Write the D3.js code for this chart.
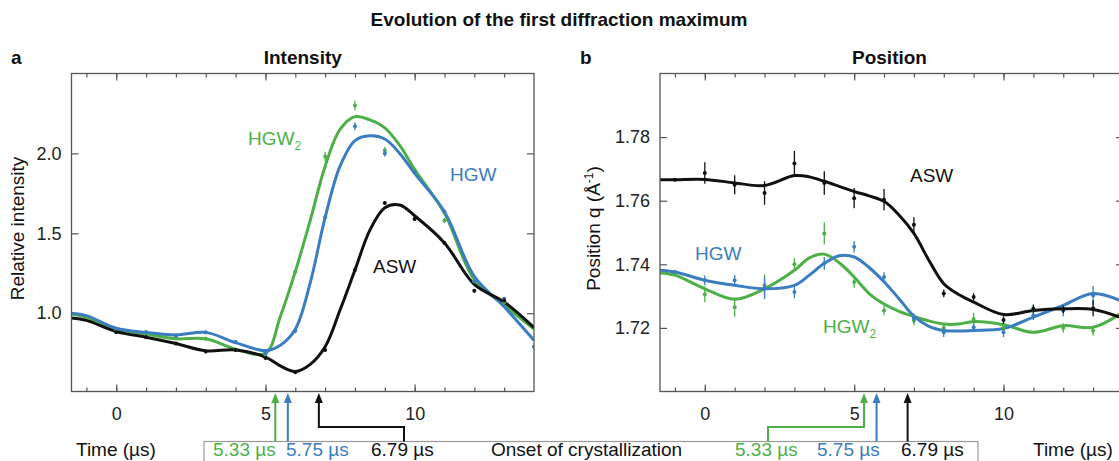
<!DOCTYPE html>
<html><head><meta charset="utf-8">
<script src="https://cdn.jsdelivr.net/npm/d3@7"></script>
<style>
body{margin:0;background:#fff}
text{font-family:"Liberation Sans",Arial,Helvetica,sans-serif}
</style>
</head><body>
<svg id="c" width="1119" height="461"></svg>
<script>
// ---------- data ----------
const xTicks = [0, 5, 10];
const xMinor = [-1,0,1,2,3,4,5,6,7,8,9,10,11,12,13];
const yTicksA = [1.0, 1.5, 2.0];
const yTicksB = [1.72, 1.74, 1.76, 1.78];

// Panel a: fitted curves (relative intensity)
const fitTimeA = [-1.5,-1,0,1,2,3,4,5,5.5,6,6.5,7,7.5,8,8.5,9,9.5,10,11,12,13,14];
const fitHGW2A = [0.995,0.975,0.90,0.87,0.84,0.84,0.775,0.75,0.98,1.26,1.58,1.92,2.15,2.23,2.21,2.16,2.05,1.90,1.625,1.21,1.05,0.90];
const fitHGWA  = [1.00,0.985,0.906,0.88,0.864,0.88,0.816,0.766,0.80,0.90,1.19,1.60,1.92,2.08,2.11,2.09,2.0,1.875,1.635,1.23,1.04,0.83];
const fitASWA  = [0.97,0.955,0.885,0.85,0.81,0.765,0.77,0.725,0.67,0.635,0.68,0.79,1.02,1.27,1.52,1.66,1.677,1.61,1.44,1.18,1.07,0.91];

// Panel a: measured points
const ptTimeA = [0,1,2,3,4,5,6,7,8,9,10,11,12,13,14];
const ptHGW2A = [0.89,0.88,0.85,0.84,0.77,0.74,1.26,1.98,2.30,2.02,1.89,1.58,1.20,1.07,null];
const errHGW2A= [0.012,0.012,0.012,0.012,0.012,0.012,0.015,0.03,0.03,0.02,0.015,0.015,0.012,0.012,0];
const ptHGWA  = [0.90,0.88,0.86,0.88,0.82,0.75,0.89,1.60,2.17,2.00,1.88,1.635,1.20,1.09,0.79];
const errHGWA = [0.012,0.012,0.012,0.012,0.012,0.012,0.015,0.02,0.025,0.02,0.015,0.015,0.012,0.012,0.012];
const ptASWA  = [0.88,0.85,0.81,0.76,0.77,0.72,0.63,0.77,1.27,1.69,1.59,1.44,1.14,1.08,null];
const errASWA = [0.01,0.01,0.01,0.01,0.01,0.01,0.01,0.01,0.01,0.012,0.012,0.01,0.01,0.01,0];

// Panel b: fitted curves (position q, 1/Å)
const fitTimeB = [-1.5,-1,0,1,2,3,3.5,4,4.5,5,5.5,6,6.5,7,7.5,8,8.5,9,10,11,12,13,14];
const fitASWB  = [1.7666,1.7666,1.7667,1.7656,1.7648,1.7679,1.7675,1.7661,1.7645,1.7629,1.7615,1.7598,1.7555,1.7497,1.7413,1.7339,1.7305,1.7281,1.7242,1.7255,1.7260,1.7258,1.7230];
const fitHGWB  = [1.7381,1.7376,1.7350,1.7334,1.7323,1.7334,1.7366,1.7403,1.7427,1.7423,1.7390,1.7345,1.7292,1.7237,1.7205,1.7192,1.7190,1.7192,1.7198,1.7234,1.7271,1.7308,1.7282];
const fitHGW2B = [1.7373,1.7366,1.7323,1.7290,1.7323,1.7381,1.7420,1.7432,1.7405,1.7360,1.7308,1.7275,1.7252,1.7236,1.7222,1.7212,1.7212,1.7220,1.7210,1.7186,1.7207,1.7202,1.7250];

// Panel b: measured points
const ptTimeB = [-1,0,1,2,3,4,5,6,7,8,9,10,11,12,13,14];
const ptASWB  = [1.7666,1.7687,1.7650,1.7624,1.7717,1.7656,1.7608,1.7603,1.7524,1.7308,1.7297,1.7225,1.7260,1.7258,1.7262,null];
const errASWB = [0.0004,0.0034,0.003,0.0037,0.0039,0.0037,0.0032,0.0034,0.0024,0.0012,0.0012,0.0012,0.0012,0.0012,0.0025,0];
const ptHGWB  = [1.7376,1.7350,1.7350,1.7325,1.7313,1.7403,1.7455,1.7360,1.7230,1.7186,1.7202,1.7186,1.7240,1.7255,1.7302,null];
const errHGWB = [0.0004,0.0015,0.0016,0.0034,0.002,0.002,0.0018,0.0015,0.0015,0.0015,0.0015,0.0015,0.0015,0.0018,0.003,0];
const ptHGW2B = [1.7370,1.7306,1.7265,1.7334,1.7400,1.7497,1.7344,1.7255,1.7223,1.7200,1.7228,1.7200,1.7260,1.7200,1.7191,null];
const errHGW2B= [0.0004,0.0025,0.003,0.0035,0.002,0.0035,0.0018,0.0015,0.0015,0.0015,0.002,0.0015,0.0015,0.0015,0.0015,0];

// Onset of crystallization
const onsetTimes  = [5.33, 5.75, 6.79];
const onsetLabels = ["5.33 µs", "5.75 µs", "6.79 µs"];

// ---------- styles ----------
const GREEN = "#4db047", BLUE = "#3a7dc0", BLACK = "#111111";
const onsetColors = [GREEN, BLUE, BLACK];
const FONT = 19, TICKFONT = 18, BOTTOM_BASE = 456;

const svg = d3.select("#c");

svg.append("text").attr("x", 559).attr("y", 26).attr("text-anchor", "middle")
  .attr("font-weight", "bold").attr("font-size", 19).attr("fill", "#111")
  .text("Evolution of the first diffraction maximum");

const T = 73.5, B = 391.5;
const panels = [
  {key:"a", L:71.5, R:534, title:"Intensity", yDomain:[0.51,2.5], yTicks:yTicksA, yFmt:d3.format(".1f"),
   fitT:fitTimeA, fits:[[fitHGW2A,GREEN],[fitHGWA,BLUE],[fitASWA,BLACK]],
   ptT:ptTimeA, pts:[[ptHGW2A,errHGW2A,GREEN],[ptHGWA,errHGWA,BLUE],[ptASWA,errASWA,BLACK]],
   ylabel:"Relative intensity", ylabX:24, letterX:11},
  {key:"b", L:660, R:1123, title:"Position", yDomain:[1.70,1.80], yTicks:yTicksB, yFmt:d3.format(".2f"),
   fitT:fitTimeB, fits:[[fitHGW2B,GREEN],[fitHGWB,BLUE],[fitASWB,BLACK]],
   ptT:ptTimeB, pts:[[ptHGW2B,errHGW2B,GREEN],[ptHGWB,errHGWB,BLUE],[ptASWB,errASWB,BLACK]],
   ylabel:"Position q (Å", ylabX:600, letterX:580}
];

const defs = svg.append("defs");

panels.forEach(p => {
  const x = d3.scaleLinear().domain([-1.5, 14]).range([p.L, p.R]);
  const y = d3.scaleLinear().domain(p.yDomain).range([B, T]);
  p.x = x; p.y = y;
  const g = svg.append("g");

  defs.append("clipPath").attr("id", "clip" + p.key).append("rect")
    .attr("x", p.L).attr("y", T).attr("width", p.R - p.L).attr("height", B - T);

  g.append("text").attr("x", p.letterX).attr("y", 64).attr("font-weight", "bold")
    .attr("font-size", FONT).attr("fill", "#111").text(p.key);
  g.append("text").attr("x", (p.L + p.R) / 2 + (p.key === "a" ? 0 : -2)).attr("y", 64)
    .attr("text-anchor", "middle").attr("font-weight", "bold").attr("font-size", FONT)
    .attr("fill", "#111").text(p.title);

  const axColor = "#555";
  const mk = (sel) => { sel.select(".domain").remove(); sel.selectAll("line").attr("stroke", axColor).attr("stroke-width", 1.2);
    sel.selectAll("text").attr("font-size", TICKFONT).attr("fill", "#222").attr("font-family", '"Liberation Sans",Arial,sans-serif'); };
  g.append("g").attr("transform", `translate(0,${B})`)
    .call(d3.axisBottom(x).tickValues(xMinor).tickSize(-4).tickFormat("")).call(mk);
  g.append("g").attr("transform", `translate(0,${B})`)
    .call(d3.axisBottom(x).tickValues(xTicks).tickSize(-7).tickPadding(16).tickFormat(d3.format("d"))).call(mk);
  g.append("g").attr("transform", `translate(0,${T})`)
    .call(d3.axisTop(x).tickValues(xMinor).tickSize(-4).tickFormat("")).call(mk);
  g.append("g").attr("transform", `translate(0,${T})`)
    .call(d3.axisTop(x).tickValues(xTicks).tickSize(-7).tickFormat("")).call(mk);
  g.append("g").attr("transform", `translate(${p.L},0)`)
    .call(d3.axisLeft(y).tickValues(p.yTicks).tickSize(-7).tickPadding(10).tickFormat(p.yFmt)).call(mk);
  g.append("g").attr("transform", `translate(${p.R},0)`)
    .call(d3.axisRight(y).tickValues(p.yTicks).tickSize(-7).tickFormat("")).call(mk);

  const cg = g.append("g").attr("clip-path", `url(#clip${p.key})`);
  const line = d3.line().x((d) => x(d[0])).y((d) => y(d[1])).curve(d3.curveCatmullRom.alpha(0.5));
  p.fits.forEach(([vals, col]) => {
    cg.append("path").datum(p.fitT.map((t, i) => [t, vals[i]]))
      .attr("d", line).attr("fill", "none").attr("stroke", col).attr("stroke-width", 3)
      .attr("stroke-linejoin", "round");
  });
  p.pts.forEach(([vals, errs, col]) => {
    const data = p.ptT.map((t, i) => ({t, v: vals[i], e: errs[i]})).filter(d => d.v !== null);
    cg.selectAll(null).data(data).enter().append("line")
      .attr("x1", d => x(d.t)).attr("x2", d => x(d.t))
      .attr("y1", d => y(d.v - d.e)).attr("y2", d => y(d.v + d.e))
      .attr("stroke", col).attr("stroke-width", 1.3);
    cg.selectAll(null).data(data).enter().append("circle")
      .attr("cx", d => x(d.t)).attr("cy", d => y(d.v)).attr("r", 2).attr("fill", col);
  });

  g.append("rect").attr("x", p.L).attr("y", T).attr("width", p.R - p.L).attr("height", B - T)
    .attr("fill", "none").attr("stroke", "#555").attr("stroke-width", 1.3);

  const yl = g.append("text").attr("transform", `translate(${p.ylabX},${(T + B) / 2 - 4}) rotate(-90)`)
    .attr("text-anchor", "middle").attr("font-size", FONT).attr("fill", "#111");
  yl.append("tspan").text(p.ylabel);
  if (p.key === "b") {
    yl.append("tspan").attr("dy", -7).attr("font-size", 12).text("-1");
    yl.append("tspan").attr("dy", 7).text(")");
  }

  g.append("text").attr("x", p.key === "a" ? 76 : 1033).attr("y", BOTTOM_BASE)
    .attr("font-size", FONT).attr("fill", "#111").text("Time (µs)");
});

function seriesLabel(px, py, txt, col, sub) {
  const t = svg.append("text").attr("x", px).attr("y", py).attr("font-size", FONT).attr("fill", col);
  t.append("tspan").text(txt);
  if (sub) t.append("tspan").attr("dy", 5).attr("font-size", 12).text(sub);
}
seriesLabel(248, 145, "HGW", GREEN, "2");
seriesLabel(450, 181, "HGW", BLUE);
seriesLabel(373, 273, "ASW", BLACK);
seriesLabel(910, 182, "ASW", BLACK);
seriesLabel(695, 260, "HGW", BLUE);
seriesLabel(823, 333, "HGW", GREEN, "2");

const boxTop = 441.5;
svg.append("rect").attr("x", 204).attr("y", boxTop).attr("width", 774).attr("height", 40)
  .attr("fill", "#fff").attr("stroke", "#999").attr("stroke-width", 1.2);
const labelStartA = [213, 286, 371];
const labelStartB = [735, 817, 901];
onsetLabels.forEach((s, i) => {
  svg.append("text").attr("x", labelStartA[i]).attr("y", BOTTOM_BASE).attr("font-size", FONT).attr("fill", onsetColors[i]).text(s);
  svg.append("text").attr("x", labelStartB[i]).attr("y", BOTTOM_BASE).attr("font-size", FONT).attr("fill", onsetColors[i]).text(s);
});
svg.append("text").attr("x", 491).attr("y", BOTTOM_BASE).attr("font-size", FONT).attr("fill", "#111").text("Onset of crystallization");

const tipY = B + 1.5, elbowY = 427;
function arrow(points, col) {
  svg.append("path").attr("d", d3.line()(points)).attr("fill", "none").attr("stroke", col).attr("stroke-width", 2);
  const [xt, yt] = points[points.length - 1];
  svg.append("path").attr("d", `M${xt},${yt - 4} L${xt - 4},${yt + 6} L${xt + 4},${yt + 6} Z`).attr("fill", col);
}
const xa = panels[0].x, xb = panels[1].x;
arrow([[xa(onsetTimes[0]), boxTop], [xa(onsetTimes[0]), tipY + 4]], GREEN);
arrow([[xa(onsetTimes[1]), boxTop], [xa(onsetTimes[1]), tipY + 4]], BLUE);
arrow([[404, boxTop], [404, elbowY], [xa(onsetTimes[2]), elbowY], [xa(onsetTimes[2]), tipY + 4]], BLACK);
arrow([[768, boxTop], [768, elbowY], [xb(onsetTimes[0]), elbowY], [xb(onsetTimes[0]), tipY + 4]], GREEN);
arrow([[xb(onsetTimes[1]), boxTop], [xb(onsetTimes[1]), tipY + 4]], BLUE);
arrow([[xb(onsetTimes[2]), boxTop], [xb(onsetTimes[2]), tipY + 4]], BLACK);
</script>
</body></html>
